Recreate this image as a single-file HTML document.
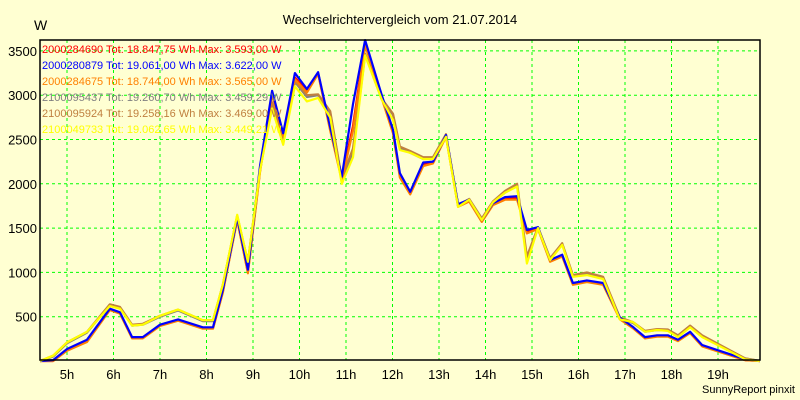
<!DOCTYPE html>
<html><head><meta charset="utf-8"><style>
html,body{margin:0;padding:0;background:#ffffd2;}
svg{display:block;font-family:"Liberation Sans",sans-serif;}
</style></head><body>
<svg id="chart" width="800" height="400">
<rect x="0" y="0" width="800" height="400" fill="#ffffd2"/>
<text x="400" y="24" text-anchor="middle" font-size="13" fill="#000">Wechselrichtervergleich vom 21.07.2014</text>
<text x="34" y="30" font-size="14" fill="#000">W</text>
<text x="795" y="393" text-anchor="end" font-size="11" fill="#000">SunnyReport pinxit</text>
<g id="grid"></g>
<g id="yticks"></g>
<g id="xticks"></g>
<g id="series"></g>
<rect x="40" y="40" width="720" height="320" fill="none" stroke="#000" stroke-width="1.5"/>
<g id="legend"></g>
</svg>
<script>
const times=[4.42,4.70,5.00,5.43,5.92,6.14,6.40,6.63,7.00,7.39,7.92,8.14,8.35,8.66,8.89,9.15,9.41,9.65,9.90,10.16,10.40,10.66,10.91,11.15,11.41,11.77,12.01,12.16,12.38,12.66,12.87,13.15,13.41,13.65,13.92,14.16,14.42,14.68,14.89,15.13,15.39,15.65,15.88,16.18,16.53,16.89,17.17,17.43,17.69,17.92,18.14,18.40,18.66,19.58,19.90];
const redVals=[0,0,120,220,580,540,260,260,400,460,370,370,780,1600,1000,2150,3030,2550,3200,3050,3250,2620,2060,2650,3593,2980,2590,2090,1900,2220,2240,2540,1760,1810,1580,1770,1840,1840,1460,1500,1130,1190,870,900,870,480,375,260,280,280,230,320,170,10,0];
const blueVals=[0,10,135,240,590,550,270,270,410,470,380,380,800,1620,1030,2200,3050,2570,3250,3070,3260,2640,2080,2900,3622,3000,2610,2120,1910,2240,2250,2550,1770,1820,1590,1780,1850,1860,1480,1510,1140,1200,880,910,880,490,385,270,290,290,240,330,180,20,0];
const orangeVals=[0,0,115,215,575,535,255,255,395,455,365,365,770,1590,990,2130,3010,2540,3180,3030,3240,2600,2040,2600,3565,2960,2570,2070,1880,2200,2230,2530,1740,1800,1570,1760,1820,1820,1440,1490,1120,1180,860,890,860,470,370,255,275,275,225,315,165,10,0];
const grayVals=[0,50,200,320,630,600,400,410,500,570,450,450,850,1640,1110,2150,2900,2480,3150,2980,3000,2800,2050,2350,3459,2950,2780,2400,2350,2280,2280,2540,1750,1820,1600,1790,1900,1980,1150,1500,1150,1320,960,990,940,480,430,330,350,345,280,390,280,30,0];
const brownVals=[0,60,210,330,640,610,410,420,510,580,460,460,860,1640,1120,2160,2920,2500,3160,3000,3010,2820,2060,2400,3469,2960,2790,2420,2370,2300,2300,2560,1760,1830,1610,1800,1920,2000,1180,1510,1160,1330,970,1000,950,490,440,340,360,355,290,400,290,30,0];
const yellowVals=[0,60,210,330,620,590,400,410,510,580,460,460,860,1650,1120,2150,2850,2440,3100,2930,2970,2750,2000,2300,3449,2950,2720,2380,2350,2280,2280,2530,1740,1820,1590,1790,1900,1970,1100,1500,1140,1310,950,970,925,470,440,330,350,340,270,380,270,20,0];
const legendLabels=["2000284690 Tot: 18.847,75 Wh Max: 3.593,00 W","2000280879 Tot: 19.061,00 Wh Max: 3.622,00 W","2000284675 Tot: 18.744,00 Wh Max: 3.565,00 W","2100095437 Tot: 19.260,70 Wh Max: 3.459,29 W","2100095924 Tot: 19.258,16 Wh Max: 3.469,00 W","2100049733 Tot: 19.062,65 Wh Max: 3.449,21 W"];
const yTicks=[500,1000,1500,2000,2500,3000,3500];
const xTicks=[5,6,7,8,9,10,11,12,13,14,15,16,17,18,19];

const NS="http://www.w3.org/2000/svg";
function X(h){return 67+(h-5)*46.5;}
function Y(v){return 361-v*44.3/500;}
function mk(tag,attrs,parent){const e=document.createElementNS(NS,tag);for(const k in attrs)e.setAttribute(k,attrs[k]);parent.appendChild(e);return e;}
const grid=document.getElementById('grid'),yt=document.getElementById('yticks'),xt=document.getElementById('xticks'),ser=document.getElementById('series'),leg=document.getElementById('legend');
yTicks.forEach(v=>{
  const l=mk('line',{x1:40,x2:760,y1:Y(v),y2:Y(v),stroke:'#00ff00','stroke-dasharray':'3,3','stroke-width':1},grid);
  
  
  const t=mk('text',{x:37,y:Y(v)+5,'text-anchor':'end','font-size':13,fill:'#000'},yt);
  t.textContent=v;
  
  
});
xTicks.forEach(h=>{
  const l=mk('line',{x1:X(h),x2:X(h),y1:40,y2:360,stroke:'#00ff00','stroke-dasharray':'3,3','stroke-width':1},grid);
  
  
  const t=mk('text',{x:X(h),y:379,'text-anchor':'middle','font-size':13,fill:'#000'},xt);
  t.textContent=h+'h';
  
  
});
const seriesList=[[grayVals,'#808080','series-2100095437'],[brownVals,'#c08040','series-2100095924'],[redVals,'#ff0000','series-2000284690'],[orangeVals,'#ff8000','series-2000284675'],[blueVals,'#0000ff','series-2000280879'],[yellowVals,'#ffff00','series-2100049733']];
seriesList.forEach(s=>{
  const pts=times.map((t,i)=>X(t).toFixed(1)+','+Y(s[0][i]).toFixed(1)).join(' ');
  const p=mk('polyline',{points:pts,fill:'none',stroke:s[1],'stroke-width':2.2,'stroke-linejoin':'round'},ser);
  
  
});
const legColors=['#ff0000','#0000ff','#ff8000','#808080','#c08040','#ffff00'];
legendLabels.forEach((lab,i)=>{
  const t=mk('text',{x:42,y:53+i*16,'font-size':11,fill:legColors[i]},leg);
  t.textContent=lab;
  
  
});
</script>
</body></html>
